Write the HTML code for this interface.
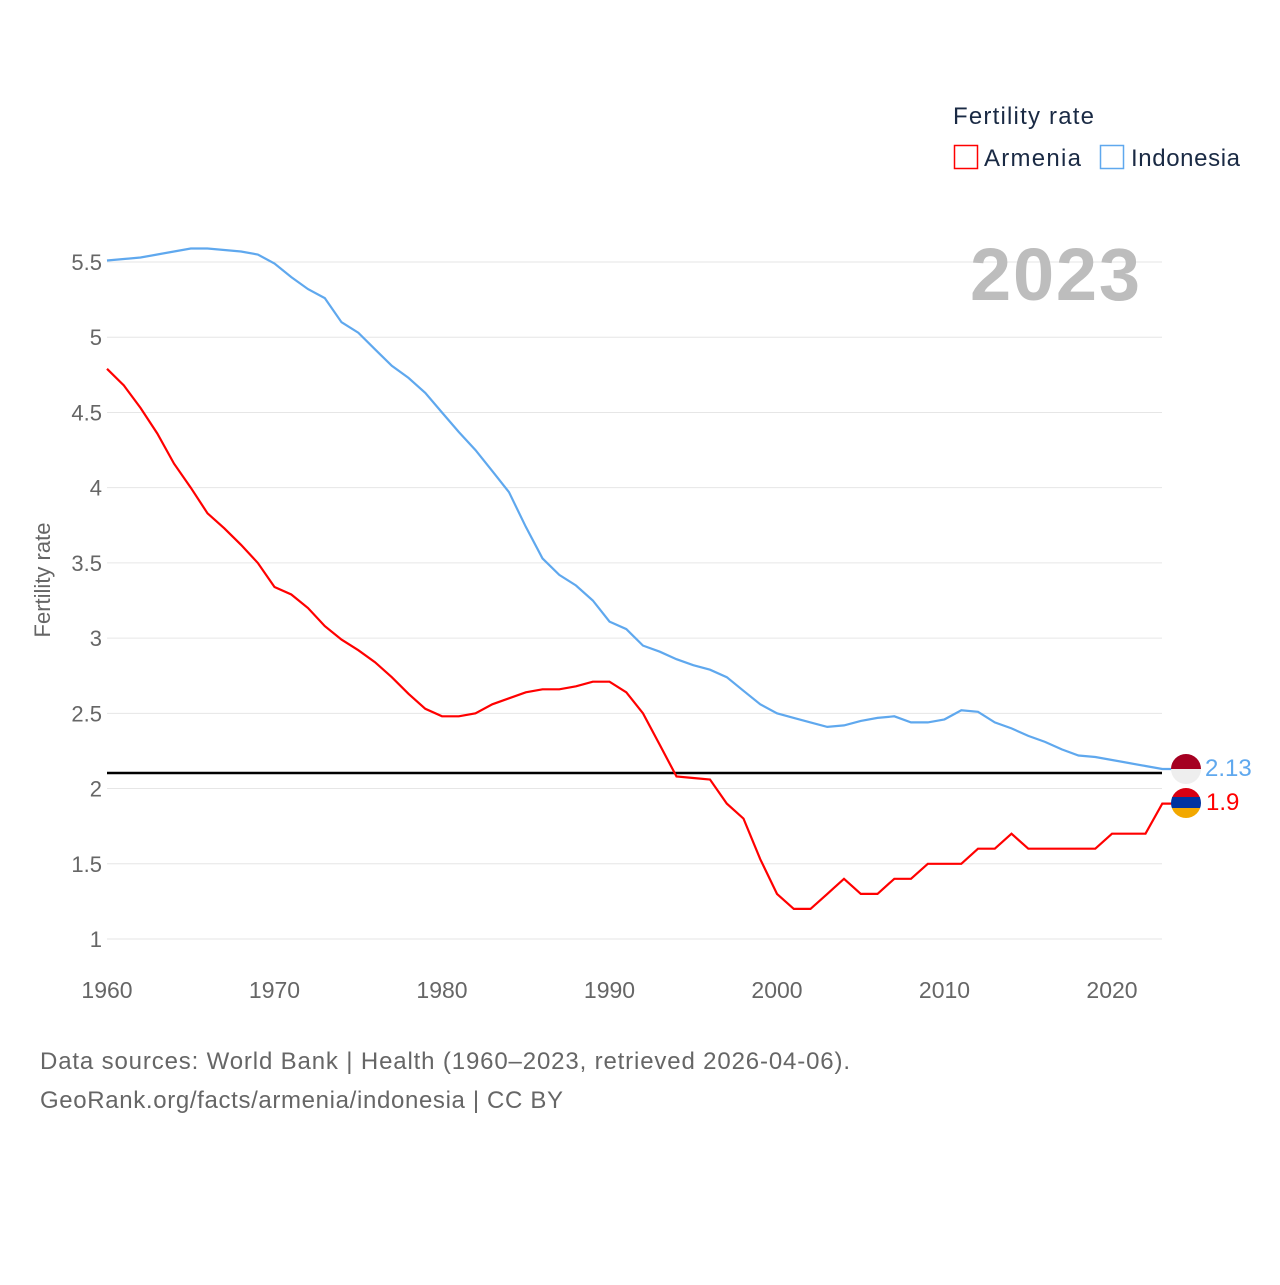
<!DOCTYPE html>
<html><head><meta charset="utf-8"><style>
body{margin:0;background:#fff;font-family:"Liberation Sans",sans-serif}
svg text{font-family:"Liberation Sans",sans-serif}
</style></head><body>
<svg width="1280" height="1280" viewBox="0 0 1280 1280">
<g id="grid"></g>
<text x="1055" y="300" font-size="74" font-weight="bold" fill="#bdbdbd" text-anchor="middle" textLength="170">2023</text>
<line x1="107" x2="1162" y1="773" y2="773" stroke="#000" stroke-width="2.5"/>
<g id="series"></g>
<text transform="translate(50,580) rotate(-90)" font-size="22" fill="#666" text-anchor="middle">Fertility rate</text>
<g>
<text x="953" y="124" font-size="24" fill="#1a2a44" textLength="141">Fertility rate</text>
<g><rect x="954.5" y="145.5" width="23" height="23" fill="none" stroke="#f00" stroke-width="1.5"/><text x="984" y="166" font-size="24" fill="#1a2a44" textLength="97">Armenia</text></g>
<g><rect x="1100.5" y="145.5" width="23" height="23" fill="none" stroke="#5fa8ee" stroke-width="1.5"/><text x="1131" y="166" font-size="24" fill="#1a2a44" textLength="109">Indonesia</text></g>
</g>
<g><clipPath id="c1"><circle cx="1186" cy="769" r="15"/></clipPath><g clip-path="url(#c1)"><rect x="1170" y="753" width="32" height="16" fill="#a50021"/><rect x="1170" y="769" width="32" height="16" fill="#eee"/></g></g>
<g><clipPath id="c2"><circle cx="1186" cy="803" r="15"/></clipPath><g clip-path="url(#c2)"><rect x="1170" y="787" width="32" height="11" fill="#d90012"/><rect x="1170" y="797" width="32" height="11" fill="#0033a0"/><rect x="1170" y="808" width="32" height="11" fill="#f2a800"/></g></g>
<text x="1205" y="776" font-size="24" fill="#5fa8ee">2.13</text>
<text x="1206" y="810" font-size="24" fill="#f00">1.9</text>
<text x="40" y="1069" font-size="24" fill="#666" textLength="810">Data sources: World Bank | Health (1960–2023, retrieved 2026-04-06).</text>
<text x="40" y="1108" font-size="24" fill="#666" textLength="523">GeoRank.org/facts/armenia/indonesia | CC BY</text>
</svg>
<script>
const years=[];for(let y=1960;y<=2023;y++)years.push(y);
const armenia=[4.79,4.68,4.53,4.36,4.16,4.0,3.83,3.73,3.62,3.5,3.34,3.29,3.2,3.08,2.99,2.92,2.84,2.74,2.63,2.53,2.48,2.48,2.5,2.56,2.6,2.64,2.66,2.66,2.68,2.71,2.71,2.64,2.5,2.29,2.08,2.07,2.06,1.9,1.8,1.53,1.3,1.2,1.2,1.3,1.4,1.3,1.3,1.4,1.4,1.5,1.5,1.5,1.6,1.6,1.7,1.6,1.6,1.6,1.6,1.6,1.7,1.7,1.7,1.9];
const indonesia=[5.51,5.52,5.53,5.55,5.57,5.59,5.59,5.58,5.57,5.55,5.49,5.4,5.32,5.26,5.1,5.03,4.92,4.81,4.73,4.63,4.5,4.37,4.25,4.11,3.97,3.74,3.53,3.42,3.35,3.25,3.11,3.06,2.95,2.91,2.86,2.82,2.79,2.74,2.65,2.56,2.5,2.47,2.44,2.41,2.42,2.45,2.47,2.48,2.44,2.44,2.46,2.52,2.51,2.44,2.4,2.35,2.31,2.26,2.22,2.21,2.19,2.17,2.15,2.13];
const yTicks=[1,1.5,2,2.5,3,3.5,4,4.5,5,5.5];
const yTickLabels=["1","1.5","2","2.5","3","3.5","4","4.5","5","5.5"];
const xTicks=[1960,1970,1980,1990,2000,2010,2020];
const NS="http://www.w3.org/2000/svg";
const X=y=>107+(y-1960)*(1005/60);
const Y=v=>939-(v-1)*150.44;
const grid=document.getElementById('grid');
yTicks.forEach((t,i)=>{
 const l=document.createElementNS(NS,'line');
 l.setAttribute('x1',107);l.setAttribute('x2',1162);l.setAttribute('y1',Y(t));l.setAttribute('y2',Y(t));
 l.setAttribute('stroke','#e6e6e6');l.setAttribute('stroke-width','1');
 
 
 grid.appendChild(l);
 const tx=document.createElementNS(NS,'text');
 tx.setAttribute('x',102);tx.setAttribute('y',Y(t)+8);tx.setAttribute('text-anchor','end');
 tx.setAttribute('font-size','22');tx.setAttribute('fill','#666');tx.textContent=yTickLabels[i];
 
 
 grid.appendChild(tx);
});
xTicks.forEach(t=>{
 const tx=document.createElementNS(NS,'text');
 tx.setAttribute('x',X(t));tx.setAttribute('y',998);tx.setAttribute('text-anchor','middle');
 tx.setAttribute('font-size','23');tx.setAttribute('fill','#666');tx.textContent=t;
 
 
 grid.appendChild(tx);
});
const ser=document.getElementById('series');
function line(vals,color,name){
 const p=document.createElementNS(NS,'path');
 let d=vals.map((v,i)=>(i?'L':'M')+X(years[i]).toFixed(1)+','+Y(v).toFixed(1)).join('');
 d+='L1172,'+Y(vals[vals.length-1]).toFixed(1);
 p.setAttribute('d',d);p.setAttribute('fill','none');p.setAttribute('stroke',color);p.setAttribute('stroke-width','2.2');
 
 
 ser.appendChild(p);
}
line(indonesia,'#5fa8ee','indonesia-line');
line(armenia,'#f00','armenia-line');
</script>
</body></html>
